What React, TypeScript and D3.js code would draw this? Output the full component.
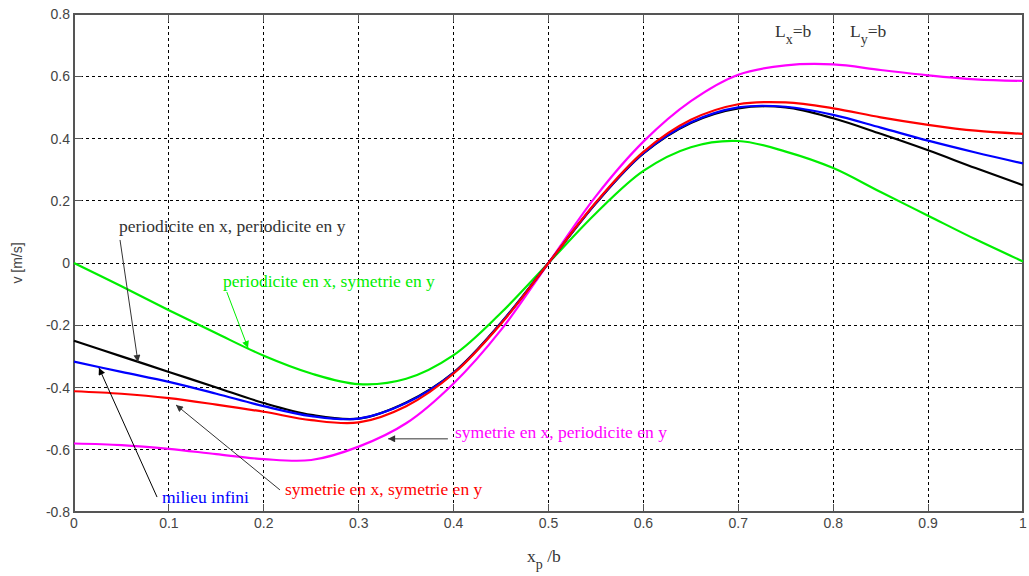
import React from "react";
import * as d3 from "d3";

const xs = [0, 0.05, 0.1, 0.15, 0.2, 0.25, 0.3, 0.35, 0.4, 0.45, 0.5, 0.55, 0.6, 0.65, 0.7, 0.75, 0.8, 0.85, 0.9, 0.95, 1];
const greenV = [0, -0.075, -0.152, -0.226, -0.298, -0.355, -0.389, -0.372, -0.296, -0.16, 0, 0.16, 0.296, 0.372, 0.392, 0.358, 0.305, 0.228, 0.152, 0.076, 0.005];
const blackV = [-0.25, -0.3, -0.35, -0.4, -0.45, -0.488, -0.5, -0.448, -0.352, -0.192, 0, 0.192, 0.352, 0.45, 0.497, 0.5, 0.465, 0.415, 0.362, 0.305, 0.25];
const blueV = [-0.317, -0.35, -0.382, -0.42, -0.46, -0.492, -0.5, -0.45, -0.353, -0.193, 0, 0.193, 0.353, 0.452, 0.5, 0.502, 0.476, 0.435, 0.393, 0.355, 0.32];
const redV = [-0.412, -0.42, -0.434, -0.455, -0.478, -0.505, -0.512, -0.46, -0.355, -0.195, 0, 0.195, 0.357, 0.46, 0.51, 0.516, 0.497, 0.468, 0.444, 0.425, 0.415];
const magentaV = [-0.58, -0.585, -0.597, -0.614, -0.63, -0.633, -0.59, -0.515, -0.387, -0.215, 0, 0.215, 0.39, 0.52, 0.605, 0.635, 0.638, 0.62, 0.603, 0.59, 0.585];

const xTicks = [0, 0.1, 0.2, 0.3, 0.4, 0.5, 0.6, 0.7, 0.8, 0.9, 1];
const yTicks = [-0.8, -0.6, -0.4, -0.2, 0, 0.2, 0.4, 0.6, 0.8];

const series = [
  { name: "green", color: "#00ee00", values: greenV },
  { name: "magenta", color: "#ff00ff", values: magentaV },
  { name: "black", color: "#000000", values: blackV },
  { name: "blue", color: "#0000ff", values: blueV },
  { name: "red", color: "#ff0000", values: redV },
];

// annotations in data units: text anchor, arrow start, arrow end
const notes = [
  { text: "periodicite en x, periodicite en y", color: "#333333", arrow: "#333333", tx: 0.0474, ty: 0.1, ax1: 0.0485, ay1: 0.074, ax2: 0.0674, ay2: -0.318 },
  { text: "periodicite en x, symetrie en y", color: "#00ee00", arrow: "#00ee00", tx: 0.157, ty: -0.077, ax1: 0.161, ay1: -0.093, ax2: 0.1834, ay2: -0.273 },
  { text: "milieu infini", color: "#0000ff", arrow: "#000000", tx: 0.0927, ty: -0.771, ax1: 0.0875, ay1: -0.752, ax2: 0.0263, ay2: -0.337 },
  { text: "symetrie en x, symetrie en y", color: "#ff0000", arrow: "#333333", tx: 0.2223, ty: -0.745, ax1: 0.217, ay1: -0.729, ax2: 0.1075, ay2: -0.456 },
  { text: "symetrie en x, periodicite en y", color: "#ff00ff", arrow: "#333333", tx: 0.4015, ty: -0.562, ax1: 0.394, ay1: -0.565, ax2: 0.331, ay2: -0.565 },
];

const W = 1029;
const H = 576;
const left = 74;
const right = 1023;
const top = 14;
const bottom = 512;

export default function App() {
  const x = d3.scaleLinear().domain([0, 1]).range([left, right]);
  const y = d3.scaleLinear().domain([-0.8, 0.8]).range([bottom, top]);
  const line = d3
    .line<number>()
    .x((_, i) => x(xs[i]))
    .y((d) => y(d))
    .curve(d3.curveCatmullRom.alpha(0.5));

  const serif = "'Liberation Serif', 'Times New Roman', serif";
  const sans = "'Liberation Sans', Arial, sans-serif";

  return (
    <svg width={W} height={H} style={{ position: "absolute", left: 0, top: 0, background: "#fff" }}>
      <defs>
        {["#333333", "#000000", "#00ee00"].map((c) => (
          <marker key={c} id={"ah" + c.slice(1)} viewBox="0 0 10 10" refX="10" refY="5" markerWidth="9" markerHeight="7" markerUnits="userSpaceOnUse" orient="auto">
            <path d="M0,0 L10,5 L0,10 z" fill={c} />
          </marker>
        ))}
      </defs>
      <rect x={0} y={0} width={W} height={H} fill="#fff" />
      {/* grid */}
      {xTicks.slice(1, -1).map((t) => (
        <line key={"gx" + t} x1={x(t)} x2={x(t)} y1={top} y2={bottom} stroke="#000" strokeWidth={1} strokeDasharray="3,3" shapeRendering="crispEdges" />
      ))}
      {yTicks.slice(1, -1).map((t) => (
        <line key={"gy" + t} x1={left} x2={right} y1={y(t)} y2={y(t)} stroke="#000" strokeWidth={1} strokeDasharray="3,3" shapeRendering="crispEdges" />
      ))}
      {/* ticks */}
      {xTicks.map((t) => (
        <g key={"tx" + t}>
          <line x1={x(t)} x2={x(t)} y1={bottom} y2={bottom - 8} stroke="#555" shapeRendering="crispEdges" />
          <line x1={x(t)} x2={x(t)} y1={top} y2={top + 8} stroke="#555" shapeRendering="crispEdges" />
          <text x={x(t)} y={bottom + 16} textAnchor="middle" fontFamily={sans} fontSize={14} fill="#444">
            {d3.format("")(t)}
          </text>
        </g>
      ))}
      {yTicks.map((t) => (
        <g key={"ty" + t}>
          <line x1={left} x2={left + 8} y1={y(t)} y2={y(t)} stroke="#555" shapeRendering="crispEdges" />
          <line x1={right} x2={right - 8} y1={y(t)} y2={y(t)} stroke="#555" shapeRendering="crispEdges" />
          <text x={left - 4} y={y(t) + 5} textAnchor="end" fontFamily={sans} fontSize={14} fill="#444">
            {t === 0 ? "0" : (t < 0 ? "-" : "") + d3.format(".1f")(Math.abs(t))}
          </text>
        </g>
      ))}
      {/* frame */}
      <rect x={left} y={top} width={right - left} height={bottom - top} fill="none" stroke="#555" strokeWidth={1.2} shapeRendering="crispEdges" />
      {/* curves */}
      {series.map((s) => (
        <path key={s.name} d={line(s.values) || ""} fill="none" stroke={s.color} strokeWidth={2.2} />
      ))}
      {/* annotations */}
      {notes.map((n) => (
        <g key={n.text}>
          <line x1={x(n.ax1)} y1={y(n.ay1)} x2={x(n.ax2)} y2={y(n.ay2)} stroke={n.arrow} strokeWidth={1} markerEnd={`url(#ah${n.arrow.slice(1)})`} />
          <text x={x(n.tx)} y={y(n.ty)} fontFamily={serif} fontSize={17.5} fill={n.color}>
            {n.text}
          </text>
        </g>
      ))}
      {/* Lx=b, Ly=b */}
      <text x={x(0.7387)} y={y(0.726)} fontFamily={serif} fontSize={17.5} fill="#333">
        L<tspan dy={7} fontSize={14}>x</tspan><tspan dy={-7}>=b</tspan>
      </text>
      <text x={x(0.8177)} y={y(0.726)} fontFamily={serif} fontSize={17.5} fill="#333">
        L<tspan dy={7} fontSize={14}>y</tspan><tspan dy={-7}>=b</tspan>
      </text>
      {/* axis labels */}
      <text x={527} y={562} fontFamily={serif} fontSize={17.5} fill="#333">
        x<tspan dy={7} fontSize={14}>p</tspan><tspan dy={-7}> /b</tspan>
      </text>
      <text transform={`translate(22,${(top + bottom) / 2}) rotate(-90)`} textAnchor="middle" fontFamily={sans} fontSize={14} fill="#444">
        v [m/s]
      </text>
    </svg>
  );
}
